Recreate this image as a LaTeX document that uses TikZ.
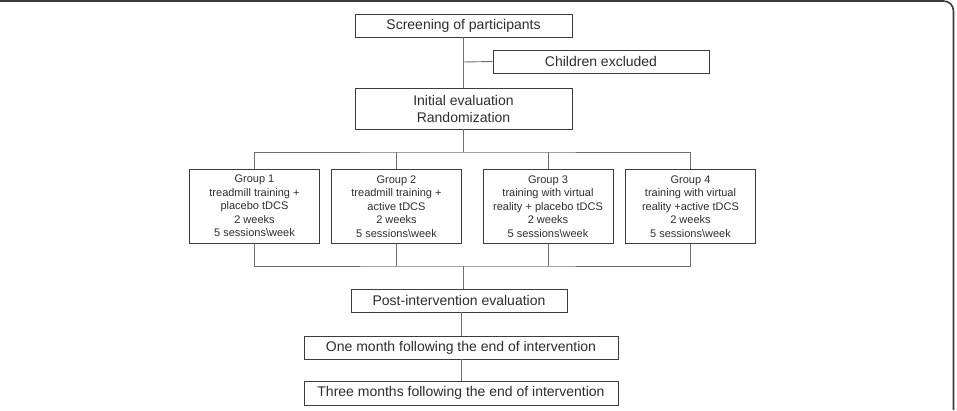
\documentclass[tikz,border=0pt]{standalone}
\usepackage{fontspec}
\setmainfont{Liberation Sans}
\usepackage{xcolor}
\usepackage{tikz}
\definecolor{marco}{RGB}{60,60,60}
\definecolor{linea}{RGB}{110,110,110}
\definecolor{texto}{RGB}{45,45,45}

\begin{document}
\begin{tikzpicture}[x=1pt, y=-1pt,
    caja/.style={draw=marco, line width=0.9pt, inner sep=0pt, align=center, text=texto,
      font=\fontsize{14}{17}\selectfont},
    grupo/.style={caja, minimum width=130pt, minimum height=74pt,
      font=\fontsize{11}{13.6}\selectfont},
    enlace/.style={draw=linea, line width=0.9pt}]
        \useasboundingbox (0,0) rectangle (957,410);
        % marco
        \draw[marco, line width=1.6pt, rounded corners=10pt] (0,1) -| (953.5,410);
        % etapas iniciales
        \node[caja, minimum width=217pt, minimum height=23pt] (screen) at (463.5,25.5) {Screening of participants};
        \node[caja, minimum width=216pt, minimum height=23pt] (excl) at (601,61.5) {Children excluded};
        \node[caja, minimum width=217pt, minimum height=41pt] (init) at (463.5,108.5) {Initial evaluation\\Randomization};
        \coordinate (j1) at (463.5,62);
        \draw[enlace] (screen) -- (init);
        \draw[enlace] (j1) -- (excl.west);
        % grupos
        \node[grupo] (g1) at (254.5,206) {Group 1\\treadmill training +\\placebo tDCS\\2 weeks\\5 sessions\textbackslash week};
        \node[grupo] (g2) at (396.5,206.5) {Group 2\\treadmill training +\\active tDCS\\2 weeks\\5 sessions\textbackslash week};
        \node[grupo] (g3) at (548,206.5) {Group 3\\training with virtual\\reality + placebo tDCS\\2 weeks\\5 sessions\textbackslash week};
        \node[grupo] (g4) at (690.5,206.5) {Group 4\\training with virtual\\reality +active tDCS\\2 weeks\\5 sessions\textbackslash week};
        \coordinate (arriba) at (463.5,152);
        \coordinate (abajo) at (463.5,266);
        \draw[enlace] (init) -- (arriba);
        \draw[enlace] (g1.north) |- (arriba) -| (g4.north);
        \draw[enlace] (g2.north) -- (g2.north |- arriba);
        \draw[enlace] (g3.north) -- (g3.north |- arriba);
        \draw[enlace] (g1.south) |- (abajo) -| (g4.south);
        \draw[enlace] (g2.south) -- (g2.south |- abajo);
        \draw[enlace] (g3.south) -- (g3.south |- abajo);
        % seguimiento
        \node[caja, minimum width=216pt, minimum height=23pt] (post) at (459,300.5) {Post-intervention evaluation};
        \node[caja, minimum width=314pt, minimum height=23pt] (mes1) at (461,347.5) {One month following the end of intervention};
        \node[caja, minimum width=314pt, minimum height=24pt] (mes3) at (461,393) {Three months following the end of intervention};
        \draw[enlace] (abajo) -- (abajo |- post.north);
        \draw[enlace] (post.south -| mes1.north) -- (mes1);
        \draw[enlace] (mes1) -- (mes3);
      \end{tikzpicture}
\end{document}
